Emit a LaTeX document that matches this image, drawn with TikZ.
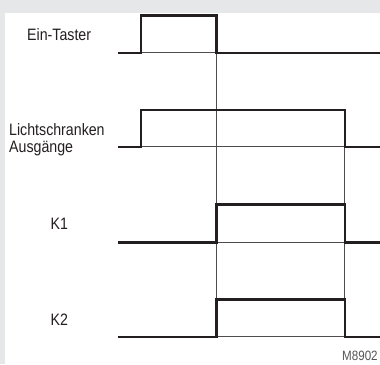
\documentclass[tikz,border=0pt]{standalone}
\usepackage{fontspec}
\setmainfont[FakeStretch=0.86]{Liberation Sans}
\definecolor{bg}{HTML}{E6E7E8}
\definecolor{ink}{HTML}{231F20}
\definecolor{note}{HTML}{555555}
\begin{document}
\begin{tikzpicture}[x=1pt,y=-1pt,
  sig/.style={line width=2.4pt, draw=ink, line join=miter},
  guide/.style={line width=0.8pt, draw=ink!80},
  lbl/.style={inner sep=0pt, anchor=base west, text=ink, font=\fontsize{16.5}{17}\selectfont},
  code/.style={inner sep=0pt, anchor=base west, text=note, font=\fontsize{13.5}{15}\selectfont}]
\useasboundingbox (0,0) rectangle (380,364);
\fill[bg] (0,0) rectangle (380,364);
\fill[white] (4.5,12.5) rectangle (380,364);
% timing points
\def\xa{118}\def\ta{141}\def\tb{216.5}\def\tc{344.7}\def\xe{380}
% guide lines
\draw[guide] (\ta,52.7) -- (\tb,52.7);
\draw[guide] (\tb,52.7) -- (\tb,336.7);
\draw[guide] (\ta,146.7) -- (\tc,146.7);
\draw[guide] (\tc,146.7) -- (\tc,336.7);
\draw[guide] (\tb,242.3) -- (\tc,242.3);
\draw[guide] (\tb,336.7) -- (\tc,336.7);
% signals
\draw[sig] (\xa,52.7) -- (\ta,52.7) -- (\ta,15.5) -- (\tb,15.5) -- (\tb,52.7) -- (\xe,52.7);
\draw[sig] (\xa,146.7) -- (\ta,146.7) -- (\ta,110) -- (\tc,110) -- (\tc,146.7) -- (\xe,146.7);
\draw[sig] (\xa,242.3) -- (\tb,242.3) -- (\tb,204.3) -- (\tc,204.3) -- (\tc,242.3) -- (\xe,242.3);
\draw[sig] (\xa,336.7) -- (\tb,336.7) -- (\tb,299.3) -- (\tc,299.3) -- (\tc,336.7) -- (\xe,336.7);
% labels
\node[lbl] (ein) at (27,40.7) {Ein-Taster};
\node[lbl] (licht) at (9,135.3) {Lichtschranken};
\node[lbl] (ausg) at (9,152.7) {Ausgänge};
\node[lbl] (k1) at (50.5,229.7) {K1};
\node[lbl] (k2) at (50.5,325.3) {K2};
\node[code] (m) at (342,360) {M8902};
\end{tikzpicture}
\end{document}
